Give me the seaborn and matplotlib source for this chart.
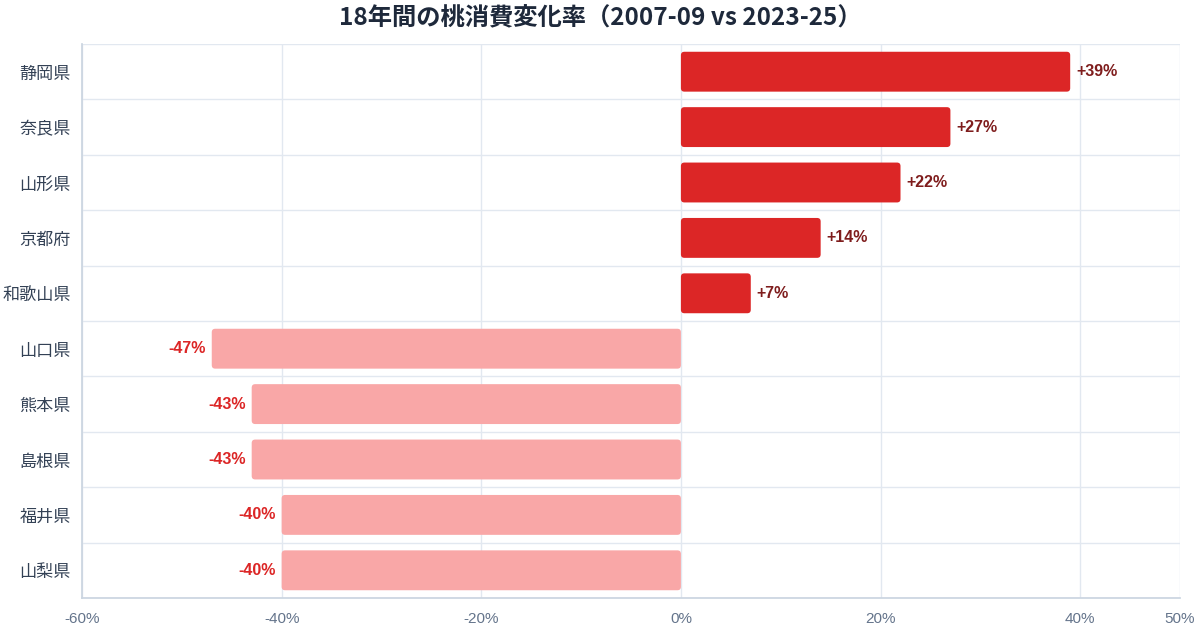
import matplotlib
matplotlib.use("Agg")
import matplotlib.pyplot as plt
from matplotlib.patches import FancyBboxPatch
import pandas as pd
import seaborn as sns

# データ（18年間の桃消費変化率, %）
prefectures = ["静岡県", "奈良県", "山形県", "京都府", "和歌山県",
               "山口県", "熊本県", "島根県", "福井県", "山梨県"]
change_pct = [39, 27, 22, 14, 7, -47, -43, -43, -40, -40]
x_ticks = [-60, -40, -20, 0, 20, 40, 50]

POS_COLOR = "#dc2626"
NEG_COLOR = "#f9a7a7"
POS_TEXT = "#7f1d1d"
NEG_TEXT = "#dc2626"
GRID = "#e2e8f0"

df = pd.DataFrame({"pref": prefectures, "pct": change_pct})
df["sign"] = ["up" if v >= 0 else "down" for v in change_pct]

sns.set_theme(style="white")
plt.rcParams["font.family"] = ["Noto Sans CJK JP", "DejaVu Sans"]

fig = plt.figure(figsize=(12, 6.3), dpi=100)
ax = fig.add_axes([82 / 1200, 1 - 598 / 630, 1098 / 1200, 554 / 630])

sns.barplot(data=df, y="pref", x="pct", hue="sign", orient="h",
            palette={"up": POS_COLOR, "down": NEG_COLOR}, saturation=1,
            width=0.72, legend=False, dodge=False, ax=ax, zorder=3)

# 角丸バー
px_x = 1098 / 110       # 1% あたりのピクセル
px_y = 554 / len(prefectures)
r = 3.5
for p in list(ax.patches):
    x0, y0, w, h = p.get_x(), p.get_y(), p.get_width(), p.get_height()
    if w == 0 or pd.isna(w):
        p.remove()
        continue
    if w < 0:
        x0, w = x0 + w, -w
    fb = FancyBboxPatch((x0, y0), w, h,
                        boxstyle=f"round,pad=0,rounding_size={r / px_x}",
                        mutation_aspect=px_x / px_y,
                        facecolor=p.get_facecolor(), edgecolor="none", zorder=3)
    p.remove()
    ax.add_patch(fb)

# 値ラベル
for i, v in enumerate(change_pct):
    if v >= 0:
        ax.text(v + 0.6, i, f"+{v}%", ha="left", va="center",
                fontsize=11.5, fontweight="bold", color=POS_TEXT,
                family=["Liberation Sans", "DejaVu Sans"], zorder=4)
    else:
        ax.text(v - 0.6, i, f"{v}%", ha="right", va="center",
                fontsize=11.5, fontweight="bold", color=NEG_TEXT,
                family=["Liberation Sans", "DejaVu Sans"], zorder=4)

ax.set_xlim(-60, 50)
ax.set_ylim(len(prefectures) - 0.5, -0.5)
ax.set_xticks(x_ticks)
ax.set_xticklabels([f"{t}%" for t in x_ticks], fontsize=11, color="#64748b",
                   family=["Liberation Sans", "DejaVu Sans"])
ax.set_yticks(range(len(prefectures)))
ax.set_yticklabels(prefectures, fontsize=12.3, color="#334155")
ax.set_yticks([i - 0.5 for i in range(len(prefectures) + 1)], minor=True)
ax.tick_params(axis="y", which="major", length=0, pad=8)
ax.tick_params(axis="y", which="minor", length=8, color="#cbd5e1", width=1)
ax.tick_params(axis="x", which="major", length=6, color="#cbd5e1", pad=4)

ax.grid(axis="x", which="major", color=GRID, linewidth=1, zorder=0)
ax.grid(axis="y", which="minor", color=GRID, linewidth=1, zorder=0)
ax.set_axisbelow(True)
for s in ["top", "right"]:
    ax.spines[s].set_visible(False)
ax.spines["left"].set_color("#cbd5e1")
ax.spines["bottom"].set_color("#cbd5e1")
ax.set_xlabel("")
ax.set_ylabel("")

fig.text(0.5, 1 - 18 / 630, "18年間の桃消費変化率（2007-09 vs 2023-25）",
         ha="center", va="center", fontsize=17.5, fontweight="bold", color="#1e293b")

fig.savefig("out.png", dpi=100)
